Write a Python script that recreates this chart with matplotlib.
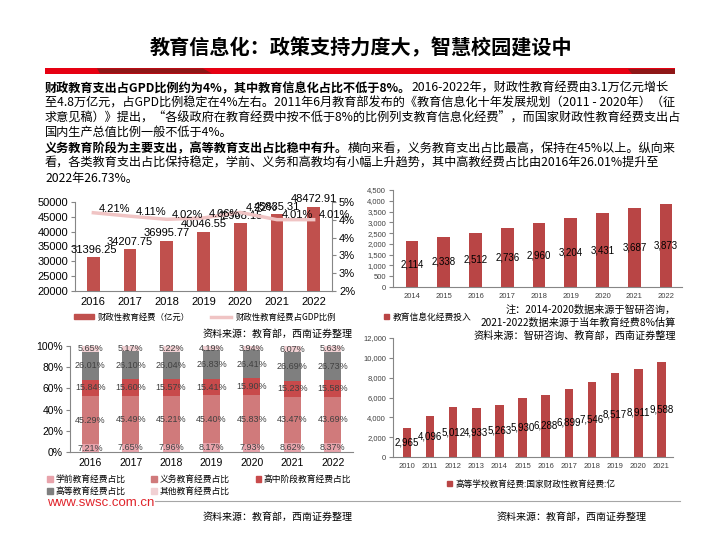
import matplotlib
matplotlib.use('Agg')
import matplotlib.pyplot as plt
import numpy as np
from matplotlib.patches import Rectangle, Polygon
from matplotlib.lines import Line2D

plt.rcParams['font.family'] = ['Liberation Sans', 'Noto Sans CJK SC']
CJK = ['Noto Sans CJK SC', 'DejaVu Sans']

# ---- data ----
years1 = ['2016', '2017', '2018', '2019', '2020', '2021', '2022']
fiscal_spend = [31396.25, 34207.75, 36995.77, 40046.55, 42908.15, 45835.31, 48472.91]
gdp_ratio = [4.21, 4.11, 4.02, 4.06, 4.22, 4.01, 4.01]

years2 = ['2014', '2015', '2016', '2017', '2018', '2019', '2020', '2021', '2022']
info_spend = [2114, 2338, 2512, 2736, 2960, 3204, 3431, 3687, 3873]

share_names = ['学前教育经费占比', '义务教育经费占比', '高中阶段教育经费占比', '高等教育经费占比', '其他教育经费占比']
pre_school = [7.21, 7.65, 7.96, 8.17, 7.93, 8.62, 8.37]
compulsory = [45.29, 45.49, 45.21, 45.40, 45.83, 43.47, 43.69]
high_school = [15.84, 15.60, 15.57, 15.41, 15.90, 15.23, 15.58]
higher = [26.01, 26.10, 26.04, 26.83, 26.41, 26.69, 26.73]
other = [5.65, 5.17, 5.22, 4.19, 3.94, 6.07, 5.63]
share_colors = ['#e8a3ab', '#d07a7b', '#c84a4b', '#7f7f7f', '#f1d0d3']

years4 = ['2010', '2011', '2012', '2013', '2014', '2015', '2016', '2017', '2018', '2019', '2020', '2021']
higher_spend = [2965, 4096, 5012, 4933, 5263, 5930, 6288, 6899, 7546, 8517, 8911, 9588]

W, H = 720, 540
fig = plt.figure(figsize=(7.2, 5.4), dpi=100)


def box(x0, y0, x1, y1):
    return [x0 / W, 1 - y1 / H, (x1 - x0) / W, (y1 - y0) / H]


def fx(x):
    return x / W


def fy(y):
    return 1 - y / H


# ---- header ----
fig.text(fx(361), fy(48), '教育信息化：政策支持力度大，智慧校园建设中', ha='center', va='center',
         fontsize=14.5, weight='bold', family=CJK)
fig.add_artist(Rectangle((fx(45), fy(73.5)), (675 - 45) / W, 5 / H, transform=fig.transFigure,
                         color='#e60012', lw=0))
fig.add_artist(Polygon([(fx(97), fy(68.5)), (fx(203), fy(68.5)), (fx(212), fy(73.5)), (fx(100), fy(73.5))],
                       transform=fig.transFigure, color='#8e1717', lw=0))
fig.add_artist(Polygon([(fx(628), fy(68.5)), (fx(675), fy(68.5)), (fx(675), fy(73.5)), (fx(632), fy(73.5))],
                       transform=fig.transFigure, color='#8e1717', lw=0))

# ---- body text ----
rend = fig.canvas.get_renderer()
FS = 8.75


def rich_line(x, y, parts):
    for txt, bold in parts:
        t = fig.text(fx(x), fy(y + 4), txt, fontsize=FS, weight='bold' if bold else 'normal',
                     va='baseline', ha='left', family=CJK)
        x = t.get_window_extent(rend).x1


rich_line(45, 88, [('财政教育支出占GPD比例约为4%，其中教育信息化占比不低于8%。', True),
                   ('2016-2022年，财政性教育经费由3.1万亿元增长', False)])
rich_line(45, 103, [('至4.8万亿元，占GPD比例稳定在4%左右。2011年6月教育部发布的《教育信息化十年发展规划（2011 - 2020年）（征', False)])
rich_line(45, 118, [('求意见稿）》提出，“各级政府在教育经费中按不低于8%的比例列支教育信息化经费”，而国家财政性教育经费支出占', False)])
rich_line(45, 132, [('国内生产总值比例一般不低于4%。', False)])
rich_line(45, 148, [('义务教育阶段为主要支出，高等教育支出占比稳中有升。', True),
                    ('横向来看，义务教育支出占比最高，保持在45%以上。纵向来', False)])
rich_line(45, 163, [('看，各类教育支出占比保持稳定，学前、义务和高教均有小幅上升趋势，其中高教经费占比由2016年26.01%提升至', False)])
rich_line(45, 178, [('2022年26.73%。', False)])

GRAY = '#868686'


def style(ax, fs, color='black'):
    for s in ['top', 'right']:
        ax.spines[s].set_visible(False)
    ax.spines['left'].set_color(GRAY)
    ax.spines['bottom'].set_color(GRAY)
    ax.tick_params(axis='y', length=3, color=GRAY, labelsize=fs, labelcolor=color, pad=2)
    ax.tick_params(axis='x', length=0, labelsize=fs, labelcolor=color, pad=4)


# ---- chart 1: fiscal education spending ----
ax1 = fig.add_axes(box(75, 202, 332, 291))
x1 = np.arange(len(years1))
ax1.bar(x1, fiscal_spend, width=0.35, color='#c0504d', zorder=2)
ax1.set_xlim(-0.5, len(years1) - 0.5)
ax1.set_ylim(20000, 50000)
ax1.set_yticks(range(20000, 50001, 5000))
ax1.set_xticks(x1, years1)
style(ax1, 8)
for xi, v in zip(x1, fiscal_spend):
    ax1.annotate(f'{v:.2f}', (xi, v), xytext=(0, 1.5), textcoords='offset points',
                 ha='center', va='bottom', fontsize=8, zorder=5)
ax2 = ax1.twinx()
ax2.plot(x1, gdp_ratio, color='#f0c4c4', lw=2.5)
lo, hi = 1.95, 4.52
ax2.set_ylim(lo, hi)
ax2.set_yticks(np.linspace(lo, hi, 6), ['%.0f%%' % v for v in np.linspace(2, 5, 6)])
for s in ['top', 'left', 'bottom']:
    ax2.spines[s].set_visible(False)
ax2.spines['right'].set_color(GRAY)
ax2.tick_params(axis='y', length=3, color=GRAY, labelsize=8, pad=2)
for xi, v in zip(x1, gdp_ratio):
    ax2.annotate(f'{v:.2f}%', (xi, v), xytext=(15, 3), textcoords='offset points',
                 ha='center', va='center', fontsize=8)
fig.legend([Rectangle((0, 0), 1, 1, color='#c0504d'), Line2D([], [], color='#f0c4c4', lw=2.5)],
           ['财政性教育经费（亿元）', '财政性教育经费占GDP比例'], loc='center left',
           bbox_to_anchor=(fx(66), fy(317)), ncol=2, frameon=False, handlelength=2.4, handleheight=0.6,
           columnspacing=2.6, handletextpad=0.5, prop={'family': CJK, 'size': 6})
fig.text(fx(353), fy(334), '资料来源：教育部，西南证券整理', ha='right', va='center', fontsize=7.2, family=CJK)

# ---- chart 2: education informatization spending ----
ax3 = fig.add_axes(box(393, 190, 682, 287))
x2 = np.arange(len(years2))
b2 = ax3.bar(x2, info_spend, width=0.4, color='#b94545', zorder=2)
ax3.set_xlim(-0.6, len(years2) - 0.5)
ax3.set_ylim(0, 4500)
ax3.set_yticks(range(0, 4501, 500))
ax3.yaxis.set_major_formatter('{x:,.0f}')
ax3.set_xticks(x2, years2)
style(ax3, 5.5, '#404040')
ax3.bar_label(b2, labels=[f'{v:,}' for v in info_spend], label_type='center', fontsize=7)
fig.legend([Rectangle((0, 0), 1, 1, color='#b94545')], ['教育信息化经费投入'], loc='center left',
           bbox_to_anchor=(fx(376), fy(317)), frameon=False, handlelength=0.6, handleheight=0.6,
           handletextpad=0.4, prop={'family': CJK, 'size': 6.3})
for yy, line in zip([310, 323, 336], ['注：2014-2020数据来源于智研咨询，', '2021-2022数据来源于当年教育经费8%估算',
                                      '资料来源：智研咨询、教育部，西南证券整理']):
    fig.text(fx(676), fy(yy), line, ha='right', va='center', fontsize=7.3, family=CJK)

# ---- chart 3: spending shares by level ----
ax4 = fig.add_axes(box(70, 346, 353, 452))
x3 = np.arange(len(years1))
bottom = np.zeros(len(years1))
handles = []
for vals, col in zip([pre_school, compulsory, high_school, higher, other], share_colors):
    bc = ax4.bar(x3, vals, bottom=bottom, width=0.42, color=col, zorder=2)
    ax4.bar_label(bc, labels=[f'{v:.2f}%' for v in vals], label_type='center', fontsize=6.5, color='#404040')
    bottom += np.array(vals)
    handles.append(Rectangle((0, 0), 1, 1, color=col))
ax4.set_xlim(-0.5, len(years1) - 0.5)
ax4.set_ylim(0, 100)
ax4.set_yticks(range(0, 101, 20), [f'{v}%' for v in range(0, 101, 20)])
ax4.set_xticks(x3, years1)
style(ax4, 7.5)
order = [0, 3, 1, 4, 2]
fig.legend([handles[i] for i in order], [share_names[i] for i in order], loc='center left',
           bbox_to_anchor=(fx(42), fy(485.5)), ncol=3, frameon=False, handlelength=0.6, handleheight=0.6,
           handletextpad=0.3, columnspacing=3.0, labelspacing=0.3, borderpad=0.1,
           prop={'family': CJK, 'size': 6.3})

# ---- chart 4: higher education spending ----
ax5 = fig.add_axes(box(393, 338, 673, 457))
x4 = np.arange(len(years4))
b4 = ax5.bar(x4, higher_spend, width=0.37, color='#b94545', zorder=2)
ax5.set_xlim(-0.6, len(years4) - 0.5)
ax5.set_ylim(0, 12000)
ax5.set_yticks(range(0, 12001, 2000))
ax5.yaxis.set_major_formatter('{x:,.0f}')
ax5.set_xticks(x4, years4)
style(ax5, 5.5, '#404040')
ax5.bar_label(b4, labels=[f'{v:,}' for v in higher_spend], label_type='center', fontsize=7)
fig.legend([Rectangle((0, 0), 1, 1, color='#b94545')], ['高等学校教育经费:国家财政性教育经费:亿'], loc='center left',
           bbox_to_anchor=(fx(439), fy(484)), frameon=False, handlelength=0.6, handleheight=0.6,
           handletextpad=0.4, prop={'family': CJK, 'size': 6.2})

# ---- footer ----
fig.text(fx(47), fy(503), 'www.swsc.com.cn', color='#e0242b', fontsize=9.5, va='center')
fig.add_artist(Line2D([fx(155), fx(680)], [fy(501), fy(501)], color='#a6a6a6', lw=0.8,
                      transform=fig.transFigure))
fig.text(fx(353), fy(517), '资料来源：教育部，西南证券整理', ha='right', va='center', fontsize=7.2, family=CJK)
fig.text(fx(647), fy(517), '资料来源：教育部，西南证券整理', ha='right', va='center', fontsize=7.2, family=CJK)

fig.savefig('out.png', dpi=100)
